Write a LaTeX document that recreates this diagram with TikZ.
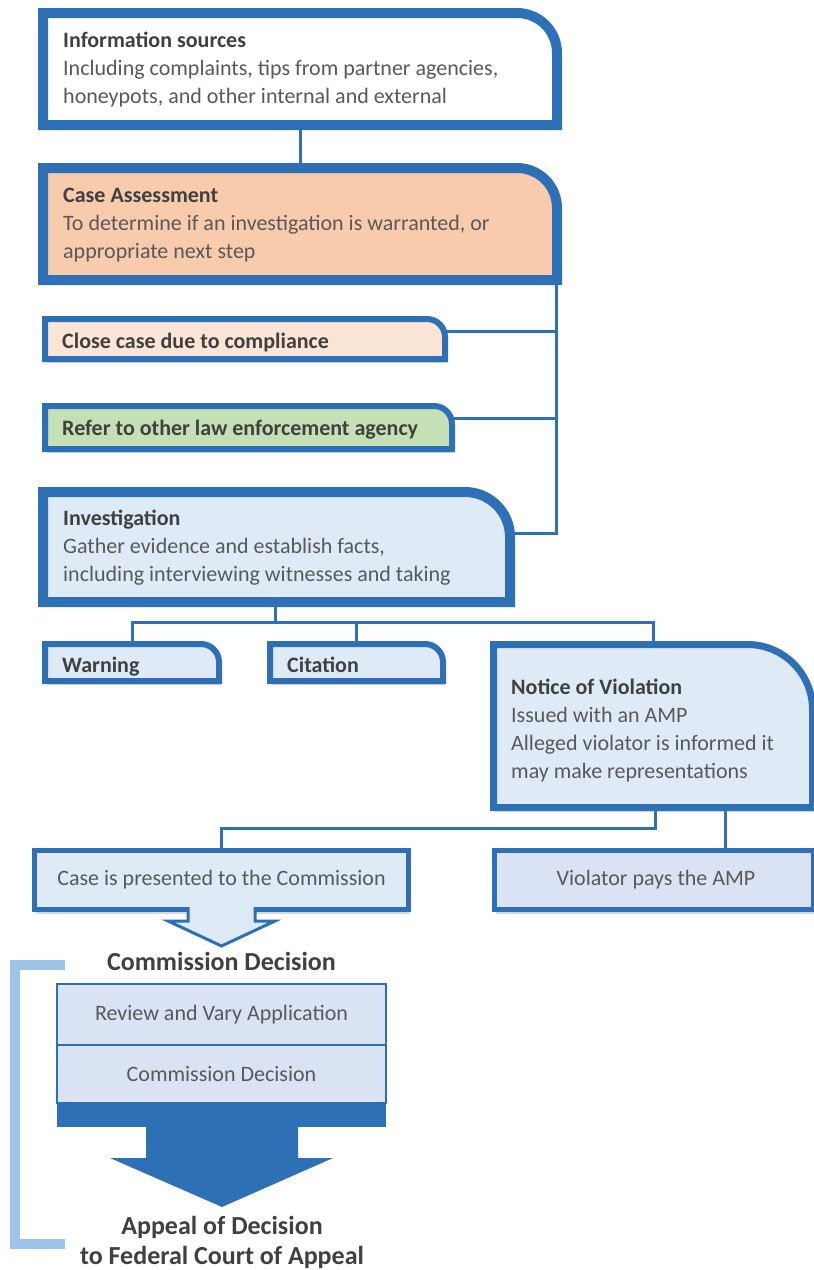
\documentclass[tikz,border=0pt]{standalone}
\usepackage{fontspec}
\setmainfont{Carlito}
\usetikzlibrary{shadows,calc}
\definecolor{bl}{RGB}{46,112,181}
\definecolor{ltblue}{RGB}{222,235,247}
\definecolor{peach}{RGB}{248,203,173}
\definecolor{ltpeach}{RGB}{251,229,214}
\definecolor{ltgreen}{RGB}{197,224,180}
\definecolor{rowblue}{RGB}{218,227,243}
\definecolor{brk}{RGB}{157,195,230}
\definecolor{tdark}{RGB}{64,64,64}
\definecolor{tbody}{RGB}{89,89,89}
\newcommand\bodyfs{\fontsize{22}{27.8}\selectfont}
\newcommand\bigfs{\fontsize{26}{30}\selectfont}
\begin{document}
\begin{tikzpicture}[x=1pt,y=-1pt,
  area/.style={inner sep=0pt,outer sep=0pt,draw=none},
  conn/.style={draw=bl,line width=3pt},
  shd/.style={drop shadow={opacity=0.3,shadow xshift=1.5pt,shadow yshift=-4pt}},
  bigbox/.style={draw=bl,line width=10pt,line join=miter,shd},
  smallbox/.style={draw=bl,line width=6pt,line join=miter,shd},
  boxtext/.style={inner sep=0pt,align=left,text=tbody,font=\bodyfs},
  lbl/.style={inner sep=0pt,text=tdark,font=\bodyfs\bfseries},
  ctr/.style={inner sep=0pt,text=tbody,font=\bodyfs}
]
\useasboundingbox (0,0) rectangle (814,1270);
\fill[white] (0,0) rectangle (814,1270);

% ---- box areas
\node[area,minimum width=514,minimum height=112] (info) at (300,69) {};
\node[area,minimum width=514,minimum height=112] (case) at (300,224) {};
\node[area,minimum width=400,minimum height=40] (close) at (245,339) {};
\node[area,minimum width=407,minimum height=43] (refer) at (248.5,427.5) {};
\node[area,minimum width=467,minimum height=110] (invest) at (276.5,547) {};
\node[area,minimum width=174,minimum height=37] (warning) at (132,662.5) {};
\node[area,minimum width=173,minimum height=37] (citation) at (356.5,662.5) {};
\node[area,minimum width=319,minimum height=163] (notice) at (653,726) {};
\node[area,minimum width=374,minimum height=59] (casep) at (221.5,880) {};
\node[area,minimum width=319,minimum height=59] (violator) at (654,880) {};

% ---- named junction points
\coordinate (tr) at (556,533);
\coordinate (jc) at (556,331);
\coordinate (jr) at (556,418);
\coordinate (bus) at (275,622);
\coordinate (nl) at (655,828);
\coordinate (nr) at (725,828);

% ---- connectors
\draw[conn] (info.south) -- (case.north);
\draw[conn] (case.south -| tr) -- (tr) -- (invest.east |- tr);
\draw[conn] (close.east |- jc) -- (jc);
\draw[conn] (refer.east |- jr) -- (jr);
\draw[conn] (invest.south -| bus) -- (bus);
\draw[conn] (warning.north) |- (bus) -| (notice.north);
\draw[conn] (citation.north) -- (citation.north |- bus);
\draw[conn] (notice.south -| nl) -- (nl) -| (casep.north);
\draw[conn] (notice.south -| nr) -- (violator.north -| nr);

% ---- boxes
\draw[bigbox,fill=white] (info.south west) -- (info.north west) [rounded corners=40pt] -- (info.north east) [sharp corners] -- (info.south east) -- cycle;
\draw[bigbox,fill=peach] (case.south west) -- (case.north west) [rounded corners=40pt] -- (case.north east) [sharp corners] -- (case.south east) -- cycle;
\draw[smallbox,fill=ltpeach] (close.south west) -- (close.north west) [rounded corners=18pt] -- (close.north east) [sharp corners] -- (close.south east) -- cycle;
\draw[smallbox,fill=ltgreen] (refer.south west) -- (refer.north west) [rounded corners=18pt] -- (refer.north east) [sharp corners] -- (refer.south east) -- cycle;
\draw[bigbox,fill=ltblue] (invest.south west) -- (invest.north west) [rounded corners=45pt] -- (invest.north east) [sharp corners] -- (invest.south east) -- cycle;
\draw[smallbox,fill=ltblue] (warning.south west) -- (warning.north west) [rounded corners=18pt] -- (warning.north east) [sharp corners] -- (warning.south east) -- cycle;
\draw[smallbox,fill=ltblue] (citation.south west) -- (citation.north west) [rounded corners=18pt] -- (citation.north east) [sharp corners] -- (citation.south east) -- cycle;
\draw[smallbox,line width=7pt,fill=ltblue] (notice.south west) -- (notice.north west) [rounded corners=65pt] -- (notice.north east) [sharp corners] -- (notice.south east) -- cycle;
\draw[smallbox,line width=5pt,fill=ltblue] (casep.south west) rectangle (casep.north east);
\draw[smallbox,line width=5pt,fill=rowblue] (violator.south west) rectangle (violator.north east);

% small arrow under "Case is presented"
\draw[draw=bl,fill=ltblue,line width=3pt,line join=miter] (188,907) -- (188,921) -- (168,921) -- (221.5,946) -- (275,921) -- (255,921) -- (255,907);

% ---- texts
\node[boxtext,anchor=north west] (infot) at (63,32) {{\bfseries\color{tdark}Information sources}\\Including complaints, tips from partner agencies,\\honeypots, and other internal and external};
\node[boxtext,anchor=north west] (caset) at (63,188) {{\bfseries\color{tdark}Case Assessment}\\To determine if an investigation is warranted, or\\appropriate next step};
\node[lbl,anchor=base west] (closet) at (62,348) {Close case due to compliance};
\node[lbl,anchor=base west] (refert) at (62,435) {Refer to other law enforcement agency};
\node[boxtext,anchor=north west] (investt) at (63,510) {{\bfseries\color{tdark}Investigation}\\Gather evidence and establish facts,\\including interviewing witnesses and taking};
\node[lbl,anchor=base west] (warnt) at (62,672) {Warning};
\node[lbl,anchor=base west] (citt) at (287,672) {Citation};
\node[boxtext,anchor=north west] (noticet) at (511,679) {{\bfseries\color{tdark}Notice of Violation}\\Issued with an AMP\\Alleged violator is informed it\\may make representations};
\node[ctr] (casept) at (221.5,880) {Case is presented to the Commission};
\node[ctr] (violt) at (656,880) {Violator pays the AMP};

% ---- commission decision part
\draw[brk,line width=10pt,line join=miter] (65,965) -- (15,965) -- (15,1244) -- (65,1244);
\node[inner sep=0pt,text=tdark,font=\bigfs\bfseries] (cdtitle) at (221.5,961) {Commission Decision};
\node[area,minimum width=329,minimum height=61] (review) at (221.5,1014.5) {};
\node[area,minimum width=329,minimum height=58] (decision) at (221.5,1074) {};
\node[area,minimum width=329,minimum height=24] (band) at (221.5,1115) {};
\fill[bl] (band.north west) rectangle (band.south east);
\draw[draw=bl,line width=2.5pt,fill=rowblue] (review.south west) rectangle (review.north east);
\draw[draw=bl,line width=2.5pt,fill=rowblue] (decision.south west) rectangle (decision.north east);
\node[ctr] (reviewt) at (review.center) {Review and Vary Application};
\node[ctr] (decisiont) at (decision.center) {Commission Decision};
\fill[bl] (146,1126) -- (146,1158) -- (110,1158) -- (222,1207) -- (333,1158) -- (298,1158) -- (298,1126) -- cycle;
\node[inner sep=0pt,text=tdark,font=\bigfs\bfseries,align=center,anchor=north] (appeal) at (222,1216) {Appeal of Decision\\to Federal Court of Appeal};
\end{tikzpicture}
\end{document}
